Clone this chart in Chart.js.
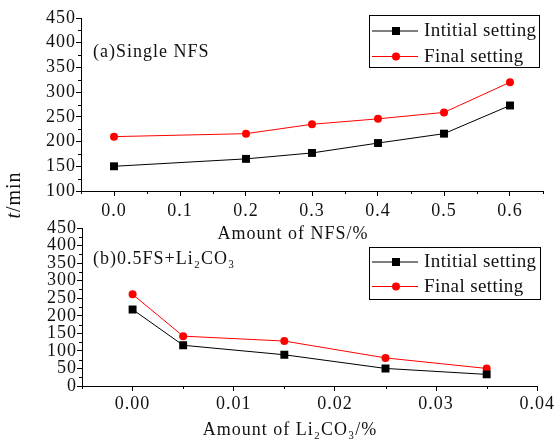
<!DOCTYPE html>
<html><head><meta charset="utf-8">
<script src="https://cdn.jsdelivr.net/npm/chart.js@4/dist/chart.umd.min.js"></script>
<style>
html,body{margin:0;padding:0;background:#fff;}
#wrap{position:relative;width:557px;height:444px;overflow:hidden;background:#fff;}
canvas{position:absolute;left:0;}
#cA{top:0;} #cB{top:200px;}
</style></head><body>
<div id="wrap"><canvas id="cA" width="557" height="250"></canvas><canvas id="cB" width="557" height="244"></canvas></div>
<script>
// ---- data ----
const nfsAmount  = [0.0, 0.2, 0.3, 0.4, 0.5, 0.6];
const nfsInitial = [150, 165, 177, 197, 216, 273];
const nfsFinal   = [210, 216, 235, 246, 259, 320];

const liAmount  = [0.000, 0.005, 0.015, 0.025, 0.035];
const liInitial = [218, 116, 89, 50, 33];
const liFinal   = [261, 142, 128, 80, 50];

const seriesNames = ['Intitial setting', 'Final setting'];

// ---- ticks ----
const nfsXTicks = [0.0, 0.1, 0.2, 0.3, 0.4, 0.5, 0.6];
const nfsXMinor = [-0.05, 0.05, 0.15, 0.25, 0.35, 0.45, 0.55, 0.65];
const nfsYTicks = [100, 150, 200, 250, 300, 350, 400, 450];
const nfsYMinor = [125, 175, 225, 275, 325, 375, 425];
const liXTicks  = [0.00, 0.01, 0.02, 0.03, 0.04];
const liXMinor  = [-0.005, 0.005, 0.015, 0.025, 0.035];
const liYTicks  = [0, 50, 100, 150, 200, 250, 300, 350, 400, 450];
const liYMinor  = [25, 75, 125, 175, 225, 275, 325, 375, 425];

const FONT = "'Liberation Serif','Times New Roman',serif";
Chart.defaults.font.family = FONT;
Chart.defaults.color = '#111';

function pts(xs, ys) { return xs.map((x, i) => ({x: x, y: ys[i]})); }

function extras(o) {
  return {
    id: 'extras_' + o.name,
    beforeUpdate(c) { c.ctx.letterSpacing = '1px'; },
    beforeLayout(c) { c.ctx.letterSpacing = '1px'; },
    beforeDraw(c) { c.ctx.letterSpacing = '1px'; },
    afterDraw(c) {
      const ctx = c.ctx, xs = c.scales.x, ys = c.scales.y;
      ctx.save();
      // minor ticks
      ctx.strokeStyle = '#000'; ctx.lineWidth = 1;
      ctx.beginPath();
      o.xMinor.forEach(v => {
        const px = Math.round(xs.getPixelForValue(v)) + 0.5;
        const top = Math.round(xs.top);
        ctx.moveTo(px, top); ctx.lineTo(px, top + 3);
      });
      o.yMinor.forEach(v => {
        const py = Math.round(ys.getPixelForValue(v)) + 0.5;
        const r = Math.round(ys.right);
        ctx.moveTo(r - 3, py); ctx.lineTo(r, py);
      });
      ctx.stroke();
      // axis title
      ctx.fillStyle = '#111';
      ctx.letterSpacing = '1px';
      ctx.font = '18px ' + FONT;
      ctx.textAlign = 'center'; ctx.textBaseline = 'alphabetic';
      ctx.fillText(o.xTitle, o.xTitlePos[0], o.xTitlePos[1]);
      // annotation
      ctx.textAlign = 'left';
      ctx.fillText(o.note, o.notePos[0], o.notePos[1]);
      // y title (shared)
      if (o.yTitle) {
        ctx.save();
        ctx.translate(o.yTitle.x, o.yTitle.y);
        ctx.rotate(-Math.PI / 2);
        ctx.font = 'italic 20px ' + FONT;
        const w1 = ctx.measureText('t').width;
        ctx.font = '20px ' + FONT;
        const w2 = ctx.measureText('/min').width;
        let x0 = -(w1 + w2) / 2;
        ctx.textAlign = 'left'; ctx.textBaseline = 'middle';
        ctx.font = 'italic 20px ' + FONT;
        ctx.fillText('t', x0, 0);
        ctx.font = '20px ' + FONT;
        ctx.fillText('/min', x0 + w1, 0);
        ctx.restore();
      }
      // legend
      const L = o.legend;
      ctx.strokeStyle = '#000'; ctx.lineWidth = 1;
      ctx.strokeRect(L.x0 + 0.5, L.y0 + 0.5, L.x1 - L.x0, L.y1 - L.y0);
      ctx.font = '19px ' + FONT;
      ctx.letterSpacing = '0.4px';
      ctx.textAlign = 'left'; ctx.textBaseline = 'middle';
      c.data.datasets.forEach((ds, i) => {
        const y = L.rows[i];
        ctx.strokeStyle = ds.borderColor; ctx.lineWidth = 1;
        ctx.beginPath(); ctx.moveTo(L.lx0, y + 0.5); ctx.lineTo(L.lx1, y + 0.5); ctx.stroke();
        ctx.fillStyle = ds.backgroundColor;
        if (ds.pointStyle === 'rect') {
          ctx.fillRect(L.mx - 4, y - 3.5, 8, 8);
        } else {
          ctx.beginPath(); ctx.arc(L.mx, y + 0.5, 4, 0, Math.PI * 2); ctx.fill();
        }
        ctx.fillStyle = '#111';
        ctx.fillText(ds.label, L.tx, y + 1);
      });
      ctx.restore();
    }
  };
}

function makeChart(id, o) {
  return new Chart(document.getElementById(id), {
    type: 'line',
    data: {
      datasets: [
        {label: seriesNames[0], data: pts(o.xs, o.ini), borderColor: '#000', backgroundColor: '#000',
         borderWidth: 1, pointStyle: 'rect', pointRadius: 5.6, pointBorderWidth: 0, tension: 0},
        {label: seriesNames[1], data: pts(o.xs, o.fin), borderColor: '#ff0000', backgroundColor: '#ff0000',
         borderWidth: 1, pointStyle: 'circle', pointRadius: 4, pointBorderWidth: 0, tension: 0}
      ]
    },
    options: {
      responsive: false, animation: false,
      layout: {padding: o.pad},
      plugins: {legend: {display: false}, tooltip: {enabled: false}},
      scales: {
        x: {
          type: 'linear', min: o.xmin, max: o.xmax,
          afterBuildTicks: s => { s.ticks = o.xTicks.map(v => ({value: v})); },
          afterFit: s => { s.height = o.xh; },
          ticks: {callback: v => Number(v).toFixed(o.dec), font: {size: 18}, padding: o.xpad,
                  maxRotation: 0, autoSkip: false},
          grid: {drawOnChartArea: false, drawTicks: true, tickLength: 5, color: '#000', tickColor: '#000'},
          border: {display: true, color: '#000', width: 1}
        },
        y: {
          min: o.ymin, max: 450,
          afterBuildTicks: s => { s.ticks = o.yTicks.map(v => ({value: v})); },
          afterFit: s => { s.width = o.yw; },
          ticks: {font: {size: 18}, padding: 0, autoSkip: false},
          grid: {drawOnChartArea: false, drawTicks: true, tickLength: 5, color: '#000', tickColor: '#000'},
          border: {display: true, color: '#000', width: 1}
        }
      }
    },
    plugins: [extras(o)]
  });
}

makeChart('cA', {
  name: 'a', xs: nfsAmount, ini: nfsInitial, fin: nfsFinal,
  xmin: -0.05, xmax: 0.65, ymin: 100, dec: 1,
  xTicks: nfsXTicks, yTicks: nfsYTicks, xMinor: nfsXMinor, yMinor: nfsYMinor,
  pad: {left: 0, right: 14, top: 18, bottom: 0}, xh: 59, yw: 81, xpad: 4,
  xTitle: 'Amount of NFS/%', xTitlePos: [293, 239],
  note: '(a)Single NFS', notePos: [93, 57],
  yTitle: {x: 15, y: 195},
  legend: {x0: 369, y0: 15, x1: 539, y1: 67, rows: [30.5, 56], lx0: 372, lx1: 418, mx: 396, tx: 424}
});

makeChart('cB', {
  name: 'b', xs: liAmount, ini: liInitial, fin: liFinal,
  xmin: -0.005, xmax: 0.04, ymin: 0, dec: 2,
  xTicks: liXTicks, yTicks: liYTicks, xMinor: liXMinor, yMinor: liYMinor,
  pad: {left: 0, right: 18, top: 28, bottom: 0}, xh: 58, yw: 82, xpad: 2,
  xTitle: 'Amount of Li\u2082CO\u2083/%', xTitlePos: [290, 235],
  note: '(b)0.5FS+Li\u2082CO\u2083', notePos: [93, 64],
  yTitle: null,
  legend: {x0: 369, y0: 47, x1: 540, y1: 99, rows: [61.5, 86], lx0: 372, lx1: 418, mx: 396, tx: 424}
});
</script>
</body></html>
